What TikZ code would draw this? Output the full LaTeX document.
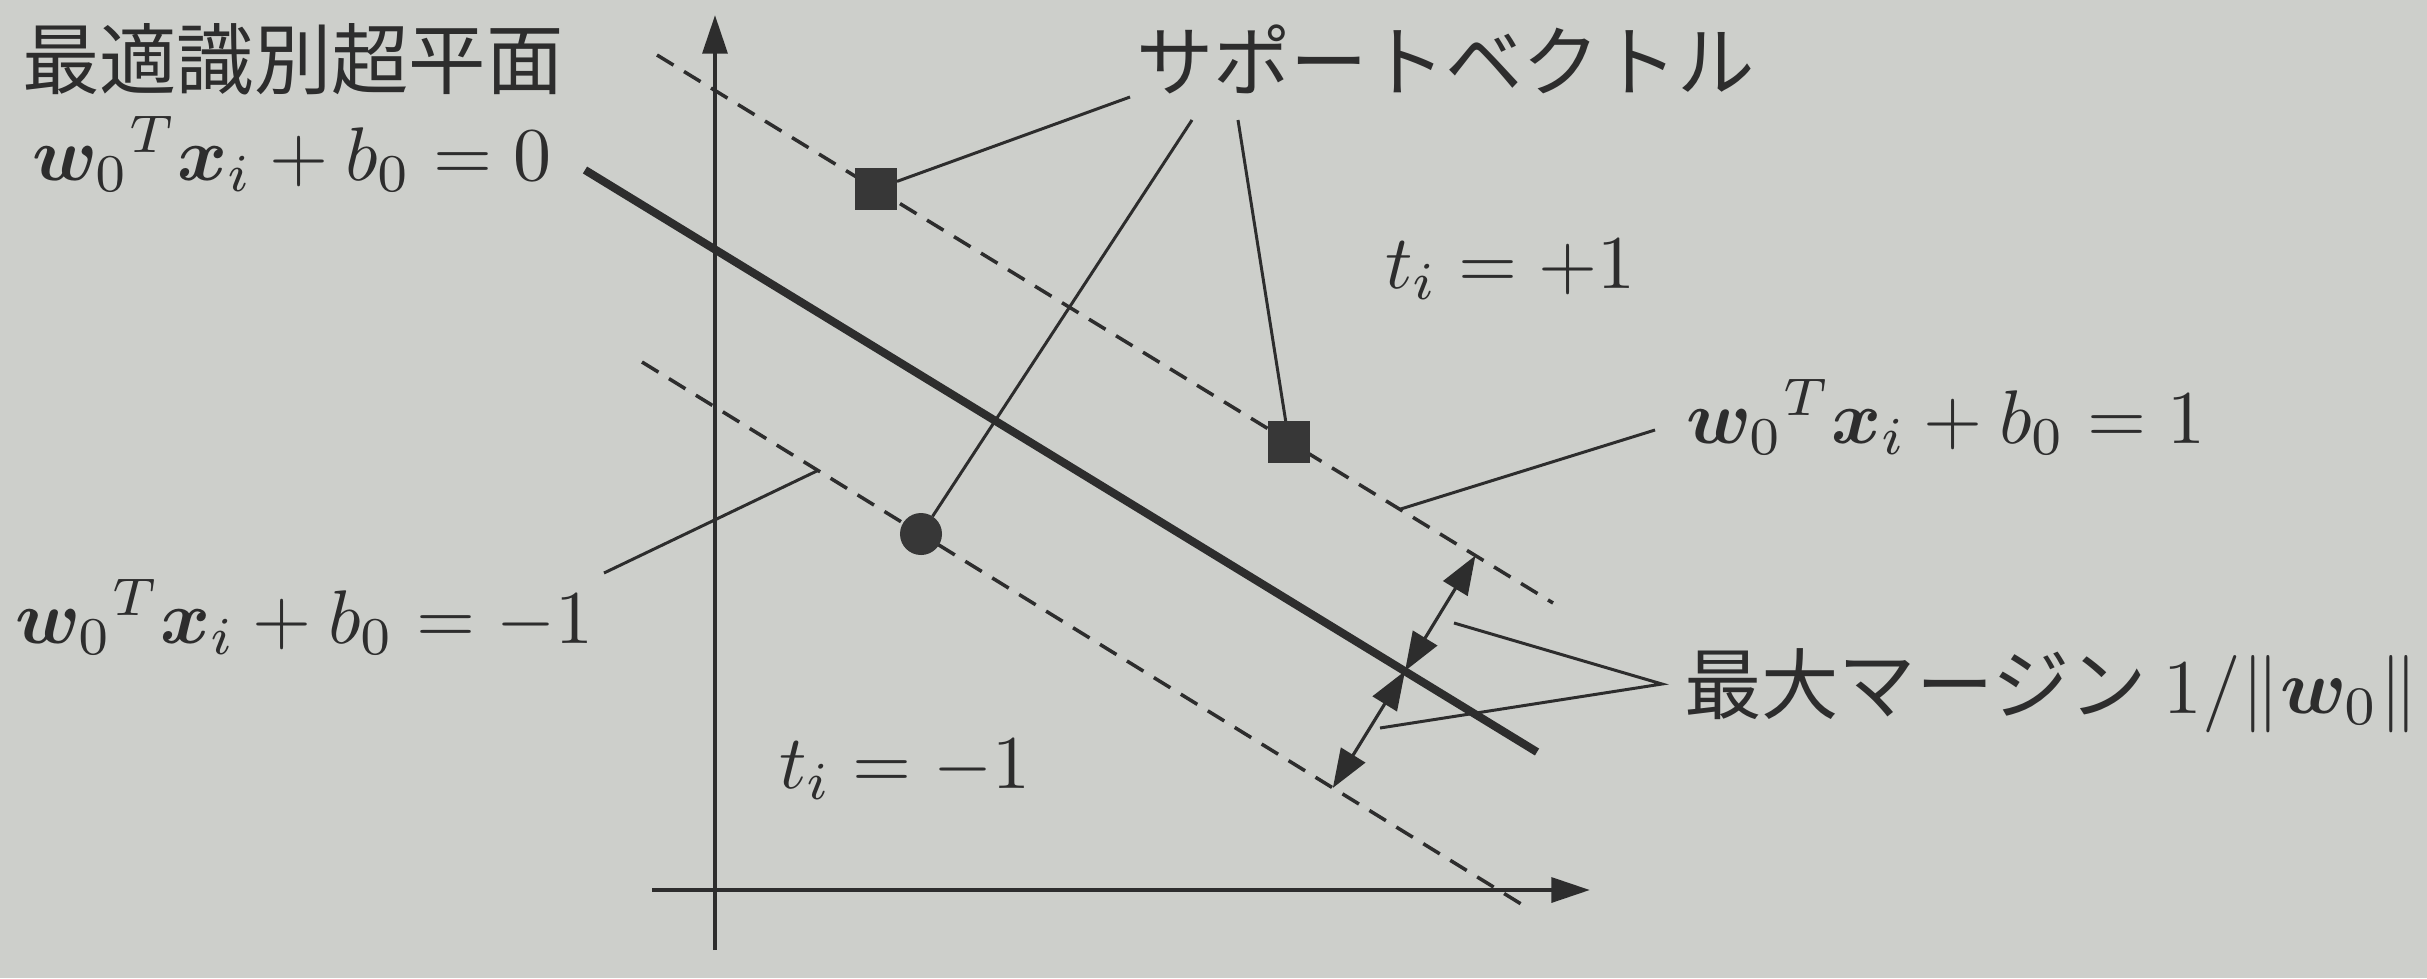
\documentclass[tikz,border=0pt]{standalone}
\usepackage{fontspec}
\usepackage{amsmath,bm}
\newfontfamily\cjk{Noto Sans CJK JP}
\usetikzlibrary{arrows.meta,calc}
\definecolor{paper}{RGB}{205,207,203}
\definecolor{ink}{RGB}{45,45,45}
\begin{document}
\begin{tikzpicture}[x=0.01cm,y=-0.01cm,
  every node/.style={text=ink, inner sep=0pt, outer sep=0pt},
  mathlbl/.style={font=\fontsize{10}{12}\selectfont, scale=2.16, anchor=base west},
  jplbl/.style={font=\cjk\fontsize{10}{12}\selectfont, scale=2.2, anchor=base west},
  axisline/.style={draw=ink, line width=1.3pt, -{Triangle[length=11pt,width=7pt]}},
  hyper/.style={draw=ink, line width=2.3pt},
  marginline/.style={draw=ink, line width=1pt, dash pattern=on 5.5pt off 3.5pt},
  leader/.style={draw=ink, line width=0.85pt},
  sqpt/.style={rectangle, fill=ink!95, minimum size=0.42cm},
  cpt/.style={circle, fill=ink!95, minimum size=0.42cm},
  marrow/.style={draw=ink, line width=0.9pt, {Triangle[length=11pt,width=8pt]}-{Triangle[length=11pt,width=8pt]}}
]
\path[use as bounding box, fill=paper] (0,0) rectangle (2427,978);
% axes
\coordinate (ybot) at (715,950); \coordinate (ytop) at (715,15);
\coordinate (xl) at (652,890); \coordinate (xr) at (1590,890);
\draw[axisline] (ybot) -- (ytop);
\draw[axisline] (xl) -- (xr);
% lines
\coordinate (h0) at (585,170); \coordinate (h1) at (1537,752);
\coordinate (p0) at (657,55); \coordinate (p1) at (1553,603);
\coordinate (m0) at (642,362); \coordinate (m1) at (1526,907);
\draw[marginline] (p0) -- (p1);
\draw[marginline] (m0) -- (m1);
\draw[hyper] (h0) -- (h1);
% support vectors
\node[sqpt] (sv1) at (876,189) {};
\node[sqpt] (sv2) at (1289,442) {};
\node[cpt] (sv3) at (921,534) {};
% margin arrows
\coordinate (mm) at (1405,671);
\coordinate (mt) at ($(p0)!(mm)!(p1)$);
\coordinate (mb) at ($(m0)!(mm)!(m1)$);
\draw[marrow] (mm) -- (mt);
\draw[marrow] (mm) -- (mb);
% labels
\node[jplbl] (title) at (22,88) {最適識別超平面};
\node[mathlbl] (eq0) at (32,180) {${\bm{w}_0}^T\bm{x}_i + b_0 = 0$};
\node[jplbl] (svlbl) at (1136,90) {サポートベクトル};
\node[mathlbl] (tp) at (1385,288) {$t_i = +1$};
\node[mathlbl] (eq1) at (1686,443) {${\bm{w}_0}^T\bm{x}_i + b_0 = 1$};
\node[mathlbl] (eqm) at (15,643) {${\bm{w}_0}^T\bm{x}_i + b_0 = -1$};
\node[mathlbl] (tm) at (779,788) {$t_i = -1$};
\node[jplbl] (mg) at (1684,713) {最大マージン $1/\|\bm{w}_0\|$};
% leaders
\coordinate (a1) at (1130,97); \coordinate (a2) at (1192,120); \coordinate (a3) at (1238,120);
\draw[leader] (a1) -- (sv1);
\draw[leader] (a2) -- (sv3);
\draw[leader] (a3) -- (sv2);
\coordinate (b1) at (1655,430); \coordinate (b2) at ($(p0)!0.829!(p1)$);
\draw[leader] (b1) -- (b2);
\coordinate (c1) at (604,573); \coordinate (c2) at ($(m0)!0.199!(m1)$);
\draw[leader] (c1) -- (c2);
\coordinate (d0) at (1662,684); \coordinate (d1) at (1454,623); \coordinate (d2) at (1380,728);
\draw[leader] (d1) -- (d0) -- (d2);
\end{tikzpicture}
\end{document}
